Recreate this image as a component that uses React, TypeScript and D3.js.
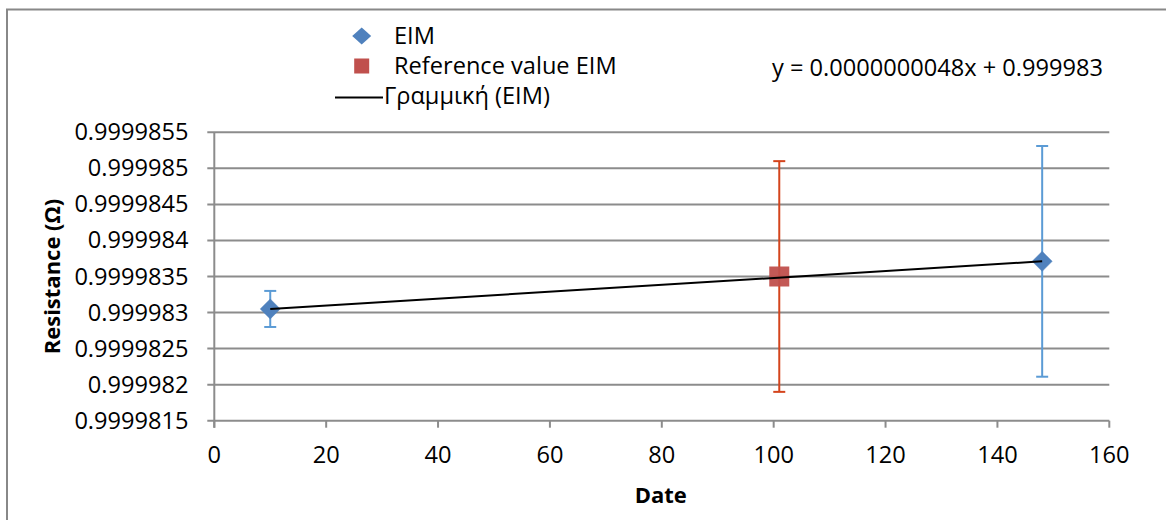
import React from "react";
import * as d3 from "d3";

const xTickValues = [0, 20, 40, 60, 80, 100, 120, 140, 160];
const yTickLabels = [
  "0.9999815",
  "0.999982",
  "0.9999825",
  "0.999983",
  "0.9999835",
  "0.999984",
  "0.9999845",
  "0.999985",
  "0.9999855",
];

const eimX = [10, 148];
const eimY = [0.99998305, 0.99998371];
const eimErr = [0.00000025, 0.0000016];

const refX = [101];
const refY = [0.9999835];
const refErr = [0.0000016];

const legendLabels = ["EIM", "Reference value EIM", "Γραμμική (EIM)"];
const equationText = "y = 0.0000000048x + 0.999983";
const xTitle = "Date";
const yTitle = "Resistance (Ω)";

const W = 1166;
const H = 520;
const FONT = "'Open Sans', sans-serif";
const FS = 23.6;
const GRID = "#8c8c8c";
const BLUE = "#4F81BD";
const BLUE_ERR = "#5B9BD5";
const RED = "#C0504D";
const RED_ERR = "#D4441C";

export default function App() {
  const x = d3.scaleLinear().domain([0, 160]).range([214.3, 1109.3]);
  const yVals = yTickLabels.map((s) => +s);
  const y = d3
    .scaleLinear()
    .domain([d3.min(yVals)!, d3.max(yVals)!])
    .range([420.7, 132.3]);

  // least squares trendline through EIM points
  const mx = d3.mean(eimX)!;
  const my = d3.mean(eimY)!;
  let num = 0;
  let den = 0;
  eimX.forEach((xv, i) => {
    num += (xv - mx) * (eimY[i] - my);
    den += (xv - mx) * (xv - mx);
  });
  const slope = num / den;
  const intercept = my - slope * mx;
  const x0 = d3.min(eimX)!;
  const x1 = d3.max(eimX)!;
  const trend = d3.line<number>()
    .x((d) => x(d))
    .y((d) => y(intercept + slope * d))([x0, x1]);

  const dPath = (r: number, ry: number = r) =>
    `M0,${-ry}L${r},0L0,${ry}L${-r},0Z`;

  const capW = 6;

  return (
    <svg
      width={W}
      height={H}
      style={{ position: "absolute", left: 0, top: 0, background: "#fff" }}
      fontFamily={FONT}
    >
      <rect x={0} y={0} width={W} height={H} fill="#fff" />
      {/* outer border */}
      <rect x={7} y={9.5} width={W + 20} height={H + 20} fill="none" stroke="#888" strokeWidth={2} />

      {/* gridlines */}
      {yVals.map((v, i) => (
        <line key={"g" + i} x1={x(0) - 7} x2={x(160)} y1={y(v)} y2={y(v)} stroke={GRID} strokeWidth={2} />
      ))}
      {/* y axis */}
      <line x1={x(0)} x2={x(0)} y1={y(yVals[yVals.length - 1])} y2={y(yVals[0]) + 7} stroke={GRID} strokeWidth={2} />
      {/* x ticks */}
      {xTickValues.map((v) => (
        <line key={"xt" + v} x1={x(v)} x2={x(v)} y1={y(yVals[0])} y2={y(yVals[0]) + 7} stroke={GRID} strokeWidth={2} />
      ))}
      {/* y tick labels */}
      {yTickLabels.map((s, i) => (
        <text key={"yl" + i} x={188.5} y={y(yVals[i]) + 8} textAnchor="end" fontSize={FS} fill="#000">
          {s}
        </text>
      ))}
      {/* x tick labels */}
      {xTickValues.map((v) => (
        <text key={"xl" + v} x={x(v)} y={463} textAnchor="middle" fontSize={FS} fill="#000">
          {v}
        </text>
      ))}
      {/* axis titles */}
      <text x={x(80) - 1} y={503} textAnchor="middle" fontSize={22} fontWeight="bold" fill="#000">
        {xTitle}
      </text>
      <text
        transform={`translate(60,${(y(yVals[0]) + y(yVals[yVals.length - 1])) / 2}) rotate(-90)`}
        textAnchor="middle"
        fontSize={22}
        fontWeight="bold"
        fill="#000"
      >
        {yTitle}
      </text>

      {/* error bars EIM */}
      {eimX.map((xv, i) => (
        <g key={"eb" + i} stroke={BLUE_ERR} strokeWidth={2}>
          <line x1={x(xv)} x2={x(xv)} y1={y(eimY[i] - eimErr[i])} y2={y(eimY[i] + eimErr[i])} />
          <line x1={x(xv) - capW} x2={x(xv) + capW} y1={y(eimY[i] + eimErr[i])} y2={y(eimY[i] + eimErr[i])} />
          <line x1={x(xv) - capW} x2={x(xv) + capW} y1={y(eimY[i] - eimErr[i])} y2={y(eimY[i] - eimErr[i])} />
        </g>
      ))}
      {/* error bars reference */}
      {refX.map((xv, i) => (
        <g key={"rb" + i} stroke={RED_ERR} strokeWidth={2}>
          <line x1={x(xv)} x2={x(xv)} y1={y(refY[i] - refErr[i])} y2={y(refY[i] + refErr[i])} />
          <line x1={x(xv) - capW} x2={x(xv) + capW} y1={y(refY[i] + refErr[i])} y2={y(refY[i] + refErr[i])} />
          <line x1={x(xv) - capW} x2={x(xv) + capW} y1={y(refY[i] - refErr[i])} y2={y(refY[i] - refErr[i])} />
        </g>
      ))}

      {/* EIM markers */}
      {eimX.map((xv, i) => (
        <path key={"m" + i} d={dPath(10)} transform={`translate(${x(xv)},${y(eimY[i])})`} fill={BLUE} stroke={BLUE} strokeWidth={0.5} />
      ))}
      {/* Reference markers */}
      {refX.map((xv, i) => (
        <rect key={"r" + i} x={x(xv) - 10} y={y(refY[i]) - 10} width={20} height={20} fill={RED} opacity={0.95} />
      ))}
      {/* trendline drawn above markers */}
      <path d={trend!} stroke="#000" strokeWidth={2} fill="none" />

      {/* legend */}
      <path d={dPath(9.5, 8.5)} transform="translate(361.7,36)" fill={BLUE} />
      <text x={394} y={44} fontSize={FS} fill="#000">{legendLabels[0]}</text>
      <rect x={354.2} y={58.5} width={15} height={15} fill={RED} />
      <text x={394} y={73.5} fontSize={FS} fill="#000">{legendLabels[1]}</text>
      <line x1={335} x2={383} y1={97.5} y2={97.5} stroke="#000" strokeWidth={2} />
      <text x={384} y={103.5} fontSize={FS} fill="#000">{legendLabels[2]}</text>

      {/* equation */}
      <text x={937.5} y={76} textAnchor="middle" fontSize={FS} fill="#000">{equationText}</text>
    </svg>
  );
}
